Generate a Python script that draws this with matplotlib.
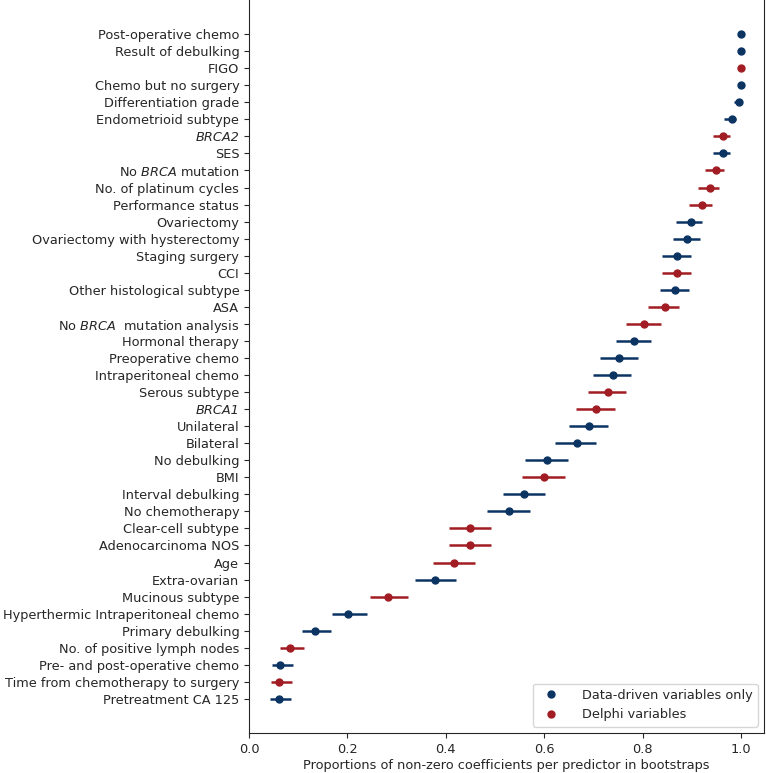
import numpy as np
import matplotlib
matplotlib.use("Agg")
import matplotlib.pyplot as plt
from matplotlib.lines import Line2D

predictors = ["Post-operative chemo", "Result of debulking", "FIGO", "Chemo but no surgery",
              "Differentiation grade", "Endometrioid subtype", "BRCA2", "SES",
              r"No $\it{BRCA}$ mutation", "No. of platinum cycles", "Performance status",
              "Ovariectomy", "Ovariectomy with hysterectomy", "Staging surgery", "CCI",
              "Other histological subtype", "ASA", r"No $\it{BRCA}$  mutation analysis",
              "Hormonal therapy", "Preoperative chemo", "Intraperitoneal chemo",
              "Serous subtype", "BRCA1", "Unilateral", "Bilateral", "No debulking",
              "BMI", "Interval debulking", "No chemotherapy", "Clear-cell subtype",
              "Adenocarcinoma NOS", "Age", "Extra-ovarian", "Mucinous subtype",
              "Hyperthermic Intraperitoneal chemo", "Primary debulking",
              "No. of positive lymph nodes", "Pre- and post-operative chemo",
              "Time from chemotherapy to surgery", "Pretreatment CA 125"]
italic_labels = ["BRCA2", "BRCA1"]

# D = data-driven only, P = Delphi
group = ["D", "D", "P", "D", "D", "D", "P", "D", "P", "P", "P", "D", "D", "D", "P",
         "D", "P", "P", "D", "D", "D", "P", "P", "D", "D", "D", "P", "D", "D", "P",
         "P", "P", "D", "P", "D", "D", "P", "D", "P", "D"]

proportion = [1.0, 1.0, 1.0, 1.0, 0.996, 0.982, 0.963, 0.963, 0.949, 0.938, 0.921,
              0.898, 0.891, 0.871, 0.871, 0.867, 0.846, 0.803, 0.783, 0.753, 0.740,
              0.730, 0.705, 0.692, 0.666, 0.606, 0.599, 0.560, 0.528, 0.449, 0.449,
              0.416, 0.378, 0.282, 0.202, 0.134, 0.084, 0.064, 0.062, 0.060]

ci_low = [1.0, 1.0, 1.0, 1.0, 0.986, 0.965, 0.943, 0.943, 0.927, 0.913, 0.894,
          0.868, 0.861, 0.839, 0.839, 0.835, 0.812, 0.766, 0.746, 0.714, 0.700,
          0.689, 0.665, 0.650, 0.623, 0.562, 0.556, 0.517, 0.484, 0.407, 0.407,
          0.374, 0.337, 0.245, 0.169, 0.108, 0.063, 0.046, 0.045, 0.043]

ci_high = [1.0, 1.0, 1.0, 1.0, 1.0, 0.990, 0.977, 0.977, 0.965, 0.956, 0.942,
           0.921, 0.916, 0.898, 0.898, 0.894, 0.875, 0.837, 0.818, 0.790, 0.776,
           0.767, 0.744, 0.730, 0.706, 0.648, 0.642, 0.602, 0.571, 0.493, 0.493,
           0.460, 0.421, 0.323, 0.240, 0.167, 0.112, 0.089, 0.087, 0.085]

blue = "#0b3463"
red = "#a11d23"
txt = "#262626"
fs = 9.3

plt.rcParams["text.color"] = txt
plt.rcParams["axes.labelcolor"] = txt
plt.rcParams["xtick.color"] = txt
plt.rcParams["ytick.color"] = txt
plt.rcParams["axes.edgecolor"] = txt

n = len(predictors)
ypos = np.arange(n)[::-1]
prop = np.array(proportion)
err = np.array([prop - np.array(ci_low), np.array(ci_high) - prop])

fig = plt.figure(figsize=(7.66, 7.73), dpi=100)
ax = fig.add_axes([249 / 766, 40 / 773, 515 / 766, 733 / 773])

for g, col in [("D", blue), ("P", red)]:
    idx = [i for i in range(n) if group[i] == g]
    ax.errorbar(prop[idx], ypos[idx], xerr=err[:, idx], fmt="o", color=col, ecolor=col,
                elinewidth=1.8, markersize=5, capsize=0)

ax.set_yticks(ypos)
ax.set_yticklabels(predictors, fontsize=fs)
for t in ax.get_yticklabels():
    if t.get_text() in italic_labels:
        t.set_fontstyle("italic")
ax.set_ylim(-2, 41)
ax.set_xlim(0, 1.047)
ax.set_xticks([0.0, 0.2, 0.4, 0.6, 0.8, 1.0])
ax.tick_params(axis="x", labelsize=fs)
ax.set_xlabel("Proportions of non-zero coefficients per predictor in bootstraps", fontsize=fs, labelpad=2)
ax.spines["top"].set_visible(False)

handles = [Line2D([], [], marker="o", color=blue, linestyle="none", markersize=5),
           Line2D([], [], marker="o", color=red, linestyle="none", markersize=5)]
ax.legend(handles, ["Data-driven variables only", "Delphi variables"], loc="lower right",
          fontsize=fs, handletextpad=1.4)

plt.savefig("out.png", dpi=100)
